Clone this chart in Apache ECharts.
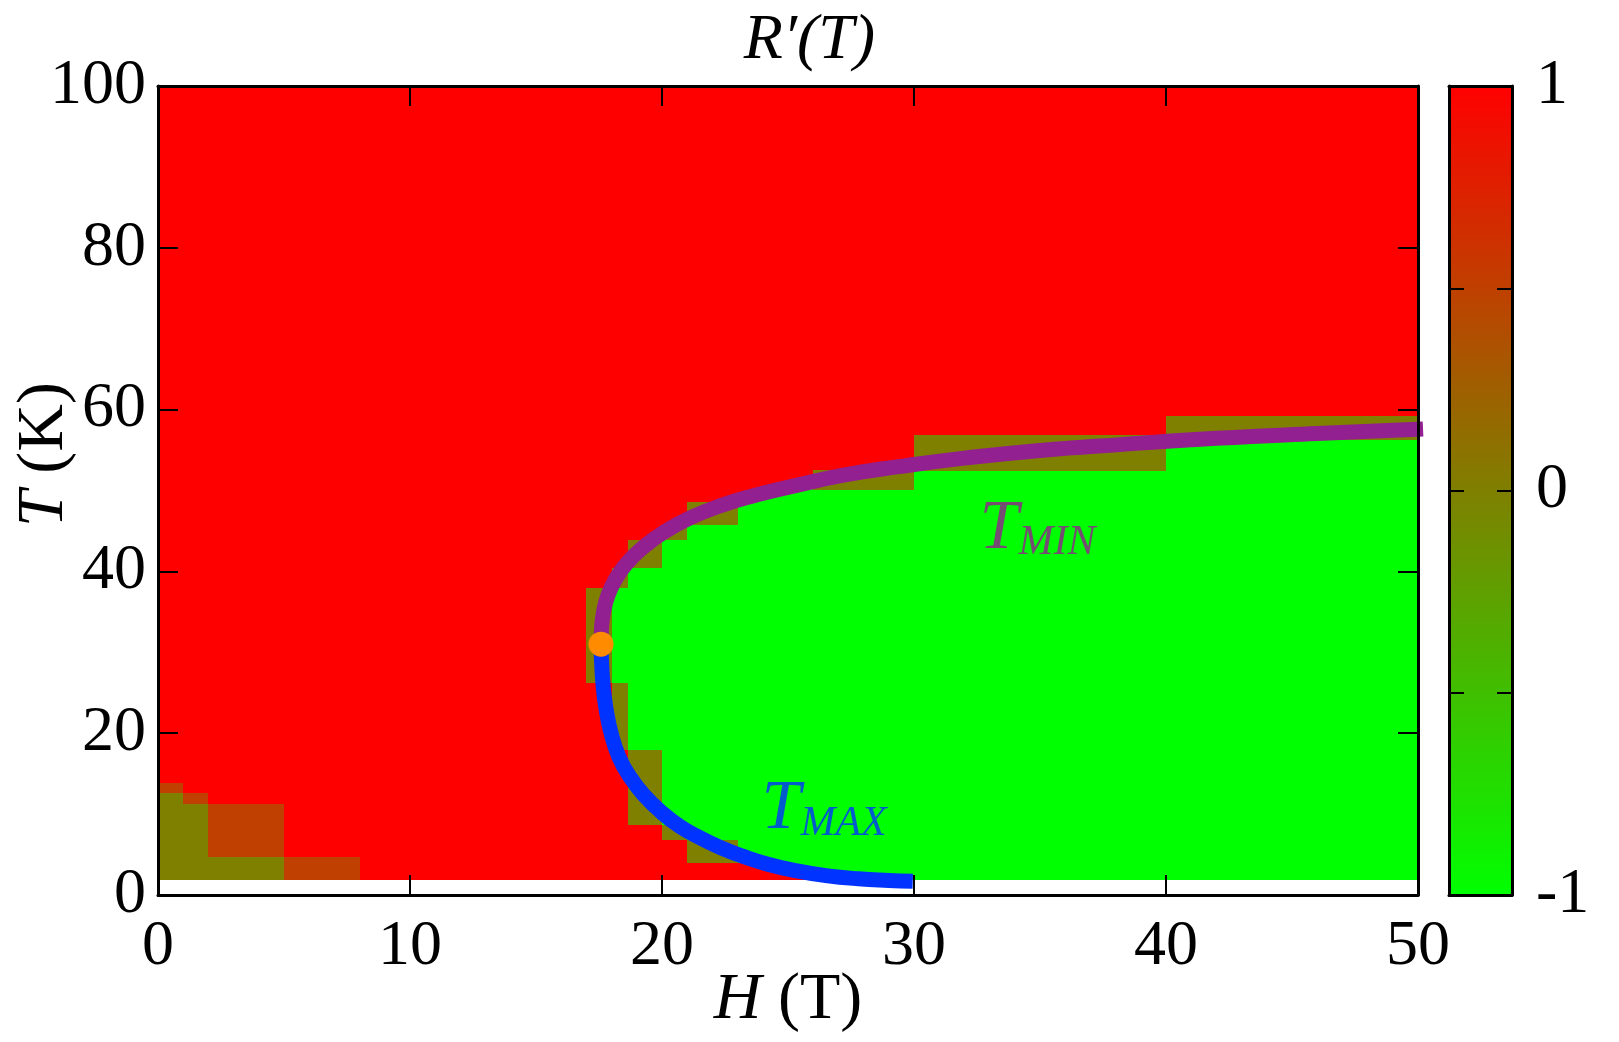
<!DOCTYPE html>
<html>
<head>
<meta charset="utf-8">
<title>R'(T) map</title>
<script src="https://cdn.jsdelivr.net/npm/echarts@6/dist/echarts.min.js"></script>
<style>
  html, body { margin: 0; padding: 0; background: #fff; }
  #chart { width: 1619px; height: 1042px; }
</style>
</head>
<body>
<div id="chart"></div>
<script>
// field columns (T): edges of each measured column
var hEdges = [0, 1, 2, 5, 8, 17, 18, 18.67, 20, 21, 23, 24.5, 26, 30, 40, 50];

// per column: temperature edges (K) and the R'(T) value between them
var colT = [
  [1.8, 12.6, 13.8, 100],
  [1.8, 11.3, 12.6, 100],
  [1.8, 4.7, 11.3, 100],
  [1.8, 4.7, 100],
  [1.8, 100],
  [1.8, 26.2, 37.9, 100],
  [1.8, 17.9, 26.2, 37.9, 40.4, 100],
  [1.8, 8.7, 17.9, 40.4, 43.9, 100],
  [1.8, 6.8, 8.7, 43.9, 45.7, 100],
  [1.8, 4.0, 6.8, 45.7, 48.6, 100],
  [1.8, 4.0, 49.2, 100],
  [1.8, 3.0, 50.4, 100],
  [1.8, 50.1, 52.5, 100],
  [1.8, 52.4, 56.8, 100],
  [1.8, 56.2, 59.2, 100]
];
var colV = [
  [0, 0.5, 1],
  [0, 0.5, 1],
  [0, 0.5, 1],
  [0.5, 1],
  [1],
  [1, 0, 1],
  [1, 0, -1, 0, 1],
  [1, 0, -1, 0, 1],
  [1, 0, -1, 0, 1],
  [1, 0, -1, 0, 1],
  [1, -1, 1],
  [1, -1, 1],
  [-1, 0, 1],
  [-1, 0, 1],
  [-1, 0, 1]
];

// T_MAX and T_MIN lines
var tMaxH = [17.58, 17.60, 17.66, 17.78, 17.98, 18.30, 18.75, 19.30, 19.95, 20.70, 21.50, 22.30, 23.20, 24.20, 25.30, 26.50, 27.80, 29.00, 29.95];
var tMaxT = [31.0, 29.0, 26.0, 23.0, 20.0, 17.0, 14.5, 12.3, 10.3, 8.5, 7.1, 5.9, 4.8, 3.8, 3.0, 2.4, 2.0, 1.8, 1.7];
var tMinH = [17.58, 17.60, 17.68, 17.85, 18.15, 18.60, 19.26, 20.10, 21.10, 22.30, 23.70, 25.30, 27.20, 29.40, 32.00, 35.00, 38.30, 42.00, 46.00, 50.20];
var tMinT = [31.0, 33.0, 35.0, 37.0, 39.0, 41.0, 43.0, 44.9, 46.6, 48.1, 49.4, 50.6, 51.9, 52.95, 54.0, 54.95, 55.7, 56.45, 57.05, 57.6];

// crossing point of the two lines
var crossPt = [17.58, 31.0];

// label anchors
var tMaxLabelAt = [23.95, 10.5];
var tMinLabelAt = [32.6, 45.2];

// colour scale
var rampColors = ['#00ff00', '#ff0000'];
var cbarTicks = [-1, 0, 1];

var FONT = 'Liberation Serif';

var cells = [];
for (var i = 0; i < colT.length; i++) {
  for (var j = 0; j < colV[i].length; j++) {
    cells.push([hEdges[i], hEdges[i + 1], colT[i][j], colT[i][j + 1], colV[i][j]]);
  }
}

function zip(a, b) {
  return a.map(function (v, k) { return [v, b[k]]; });
}

function renderCell(params, api) {
  var p0 = api.coord([api.value(0), api.value(3)]);
  var p1 = api.coord([api.value(1), api.value(2)]);
  var x0 = Math.round(p0[0]), y0 = Math.round(p0[1]);
  var x1 = Math.round(p1[0]), y1 = Math.round(p1[1]);
  return {
    type: 'rect',
    shape: { x: x0, y: y0, width: x1 - x0, height: y1 - y0 },
    style: { fill: api.visual('color') }
  };
}

function renderBar(params, api) {
  var p0 = api.coord([api.value(0), api.value(3)]);
  var p1 = api.coord([api.value(1), api.value(2)]);
  return {
    type: 'rect',
    shape: { x: p0[0], y: p0[1], width: p1[0] - p0[0], height: p1[1] - p0[1] },
    style: {
      fill: new echarts.graphic.LinearGradient(0, 0, 0, 1, [
        { offset: 0, color: rampColors[1] },
        { offset: 1, color: rampColors[0] }
      ])
    }
  };
}

var axisLine = { onZero: false, lineStyle: { color: '#000', width: 3 } };
var tick = { inside: true, length: 20, lineStyle: { color: '#000', width: 2 } };
var cbTick = { inside: true, length: 15, lineStyle: { color: '#000', width: 2 } };
var lbl = { color: '#000', fontFamily: FONT, fontSize: 64 };

var subRich = {
  t: { fontFamily: FONT, fontStyle: 'italic', fontSize: 70, lineHeight: 70, verticalAlign: 'top', padding: [0, 0, 10, 0] },
  s: { fontFamily: FONT, fontStyle: 'italic', fontSize: 42, lineHeight: 42, verticalAlign: 'bottom' }
};

var chart = echarts.init(document.getElementById('chart'));

chart.setOption({
  backgroundColor: '#fff',
  animation: false,
  title: {
    text: "R′(T)",
    left: 'center',
    top: 4,
    textStyle: { fontFamily: FONT, fontStyle: 'italic', fontWeight: 'normal', fontSize: 64, color: '#000' }
  },
  grid: [
    { left: 158, top: 86, width: 1260, height: 809, outerBoundsMode: 'none' },
    { left: 1449, top: 86, width: 63, height: 809, outerBoundsMode: 'none' }
  ],
  visualMap: {
    type: 'continuous',
    show: false,
    min: -1,
    max: 1,
    dimension: 4,
    seriesIndex: 0,
    inRange: { color: rampColors }
  },
  xAxis: [
    {
      gridIndex: 0, type: 'value', min: 0, max: 50, interval: 10, position: 'bottom', z: 10,
      axisLine: axisLine, axisTick: tick, splitLine: { show: false },
      axisLabel: Object.assign({ margin: 20 }, lbl),
      name: '{i|H} (T)',
      nameLocation: 'middle',
      nameGap: 73,
      nameMoveOverlap: false,
      nameTextStyle: {
        color: '#000', fontFamily: FONT, fontSize: 66,
        rich: { i: { fontFamily: FONT, fontStyle: 'italic', fontSize: 66, color: '#000' } }
      }
    },
    {
      gridIndex: 0, type: 'value', min: 0, max: 50, interval: 10, position: 'top', z: 10,
      axisLine: axisLine, axisTick: tick, splitLine: { show: false }, axisLabel: { show: false }
    },
    {
      gridIndex: 1, type: 'value', min: 0, max: 1, position: 'bottom', z: 10,
      axisLine: axisLine, axisTick: { show: false }, splitLine: { show: false }, axisLabel: { show: false }
    },
    {
      gridIndex: 1, type: 'value', min: 0, max: 1, position: 'top', z: 10,
      axisLine: axisLine, axisTick: { show: false }, splitLine: { show: false }, axisLabel: { show: false }
    }
  ],
  yAxis: [
    {
      gridIndex: 0, type: 'value', min: 0, max: 100, interval: 20, position: 'left', z: 10,
      axisLine: axisLine, axisTick: tick, splitLine: { show: false },
      axisLabel: Object.assign({ margin: 12 }, lbl),
      name: '{i|T} (K)',
      nameLocation: 'middle',
      nameGap: 80,
      nameMoveOverlap: false,
      nameTextStyle: {
        color: '#000', fontFamily: FONT, fontSize: 66,
        padding: [0, 0, 0, 72],
        rich: { i: { fontFamily: FONT, fontStyle: 'italic', fontSize: 66, color: '#000' } }
      }
    },
    {
      gridIndex: 0, type: 'value', min: 0, max: 100, interval: 20, position: 'right', z: 10,
      axisLine: axisLine, axisTick: tick, splitLine: { show: false }, axisLabel: { show: false }
    },
    {
      gridIndex: 1, type: 'value', min: -1, max: 1, interval: 0.5, position: 'left', z: 10,
      axisLine: axisLine, axisTick: cbTick, splitLine: { show: false }, axisLabel: { show: false }
    },
    {
      gridIndex: 1, type: 'value', min: -1, max: 1, interval: 0.5, position: 'right', z: 10,
      axisLine: axisLine, axisTick: cbTick, splitLine: { show: false },
      axisLabel: Object.assign({
        margin: 24,
        formatter: function (v) { return cbarTicks.indexOf(v) >= 0 ? String(v) : ''; }
      }, lbl)
    }
  ],
  series: [
    {
      type: 'custom',
      name: 'cells',
      xAxisIndex: 0, yAxisIndex: 0,
      renderItem: renderCell,
      encode: { x: [0, 1], y: [2, 3] },
      data: cells,
      silent: true
    },
    {
      type: 'line',
      name: 'T_MAX',
      xAxisIndex: 0, yAxisIndex: 0,
      data: zip(tMaxH, tMaxT),
      smooth: 0.5,
      showSymbol: false,
      clip: false,
      lineStyle: { color: '#0033ff', width: 15, cap: 'butt' },
      z: 4
    },
    {
      type: 'line',
      name: 'T_MIN',
      xAxisIndex: 0, yAxisIndex: 0,
      data: zip(tMinH, tMinT),
      smooth: 0.5,
      showSymbol: false,
      clip: false,
      lineStyle: { color: '#922090', width: 15, cap: 'butt' },
      z: 4
    },
    {
      type: 'scatter',
      xAxisIndex: 0, yAxisIndex: 0,
      data: [crossPt],
      symbolSize: 25,
      itemStyle: { color: '#ff8c00', opacity: 1 },
      z: 6
    },
    {
      type: 'scatter',
      xAxisIndex: 0, yAxisIndex: 0,
      data: [tMaxLabelAt],
      symbolSize: 0,
      z: 6,
      label: {
        show: true, position: 'right', distance: 0,
        formatter: '{t|T}{s|MAX}',
        color: '#0033ff',
        rich: subRich
      }
    },
    {
      type: 'scatter',
      xAxisIndex: 0, yAxisIndex: 0,
      data: [tMinLabelAt],
      symbolSize: 0,
      z: 6,
      label: {
        show: true, position: 'right', distance: 0,
        formatter: '{t|T}{s|MIN}',
        color: '#922090',
        rich: subRich
      }
    },
    {
      type: 'custom',
      name: 'colorbar',
      xAxisIndex: 2, yAxisIndex: 2,
      renderItem: renderBar,
      encode: { x: [0, 1], y: [2, 3] },
      data: [[0, 1, -1, 1]],
      silent: true
    }
  ]
});
</script>
</body>
</html>
